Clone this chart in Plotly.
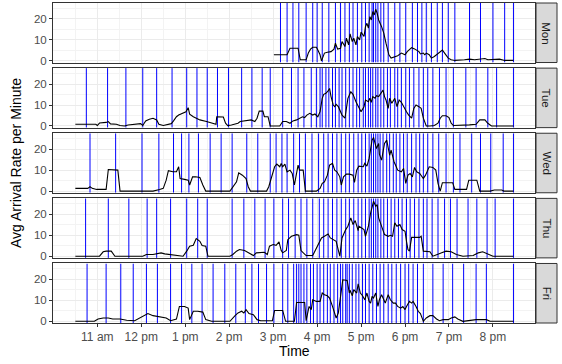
import plotly.graph_objects as go
from plotly.subplots import make_subplots

days = ["Mon", "Tue", "Wed", "Thu", "Fri"]
tick_minutes = [60, 120, 180, 240, 300, 360, 420, 480, 540, 600]   # minutes after 10:00
tick_labels = ["11 am", "12 pm", "1 pm", "2 pm", "3 pm", "4 pm", "5 pm", "6 pm", "7 pm", "8 pm"]

# ---- Monday ----
mon_t = [301, 319, 323, 334, 337, 345, 348, 351, 354, 359, 361, 364, 366, 370, 374, 379, 383, 385, 388, 392,
         394, 398, 400, 403, 405, 408, 410, 413, 415, 418, 420, 424, 426, 428, 430, 432, 434, 436, 438, 440,
         442, 444, 448, 451, 454, 458, 461, 466, 470, 475, 480, 483, 489, 493, 495, 499, 501, 505, 507, 509,
         513, 516, 520, 523, 527, 531, 534, 539, 543, 548, 561, 568, 575, 582, 589, 593, 600, 609, 616, 628]
mon_rate = [2.9, 2.9, 6.0, 6.0, 0.5, 0.5, 3.7, 5.6, 6.5, 6.5, 5.2, 2.9, 0.0, 3.7, 4.1, 4.4, 5.6, 8.4, 5.6, 6.0,
            9.2, 6.8, 10.8, 7.6, 12.9, 9.2, 10.8, 7.6, 11.6, 10.0, 13.7, 11.6, 16.3, 17.9, 15.6, 21.1, 19.5, 23.5, 21.9, 24.6,
            22.7, 19.5, 16.3, 13.2, 8.4, 2.9, 1.3, 2.1, 2.4, 3.7, 2.9, 4.4, 6.3, 5.7, 5.2, 4.4, 3.3, 3.7, 2.9, 3.7,
            2.9, 1.3, 2.1, 2.9, 4.4, 5.2, 3.7, 1.3, 0.5, 0.2, 0.5, 0.8, 0.5, 0.8, 1.1, 0.5, 0.5, 0.8, 0.2, 0.2]
mon_vlines = [310, 319, 327, 335, 345, 354, 360, 367, 376, 385, 392, 398, 404, 409, 415, 421, 426, 431, 435, 437,
              440, 443, 447, 451, 457, 466, 473, 481, 490, 497, 503, 509, 516, 524, 531, 539, 548, 568, 583, 600,
              616, 628]

# ---- Tuesday ----
tue_t = [30, 58, 60, 63, 72, 75, 78, 86, 91, 97, 102, 111, 119, 122, 126, 131, 136, 141, 144, 150,
         156, 161, 164, 168, 171, 177, 181, 184, 186, 191, 195, 200, 209, 218, 222, 223, 227, 232, 235, 238,
         243, 248, 252, 255, 261, 266, 270, 275, 278, 281, 286, 288, 293, 296, 309, 313, 318, 323, 327, 332,
         336, 340, 343, 346, 350, 354, 357, 361, 364, 367, 369, 372, 375, 377, 379, 382, 384, 386, 389, 392,
         394, 398, 400, 402, 406, 409, 413, 415, 417, 420, 424, 426, 430, 432, 434, 436, 439, 441, 444, 448,
         450, 452, 454, 457, 459, 462, 466, 469, 472, 475, 478, 482, 485, 489, 492, 495, 499, 502, 505, 509,
         514, 520, 525, 528, 531, 536, 540, 543, 546, 561, 568, 577, 582, 589, 593, 598, 628]
tue_rate = [0.8, 0.8, 0.2, 1.4, 1.7, 2.1, 1.0, 0.8, 0.2, 0.0, 0.5, 0.8, 1.1, 0.2, 2.4, 3.2, 3.7, 2.9, 0.8, 0.2,
            0.8, 1.1, 2.4, 4.4, 5.2, 6.0, 6.8, 8.7, 5.6, 4.4, 3.7, 2.9, 2.1, 1.3, 0.8, 4.4, 4.4, 4.3, 1.3, 0.2,
            0.5, 0.8, 1.3, 2.1, 2.4, 2.4, 2.9, 2.1, 3.7, 7.1, 7.1, 4.4, 4.4, 0.0, 0.0, 2.1, 2.1, 1.3, 2.4, 2.9,
            3.7, 4.4, 4.0, 5.2, 6.0, 5.2, 5.7, 4.4, 6.8, 13.2, 15.1, 15.6, 16.7, 17.9, 14.0, 10.0, 9.2, 10.3, 9.2, 6.8,
            5.2, 3.7, 8.4, 13.2, 16.3, 15.1, 11.6, 10.3, 8.4, 6.8, 9.2, 12.4, 11.6, 13.2, 11.3, 14.0, 13.2, 14.4, 14.0, 16.0,
            17.1, 14.0, 12.4, 8.4, 13.2, 10.8, 13.2, 9.2, 12.4, 11.3, 9.2, 6.8, 5.2, 3.7, 8.4, 10.0, 9.2, 8.4, 3.7, 0.0,
            0.0, 0.2, 1.3, 3.7, 4.9, 4.9, 4.0, 1.3, 0.2, 0.2, 0.5, 0.8, 2.9, 2.9, 1.3, 0.0, 0.0]
tue_vlines = [45, 74, 99, 122, 141, 162, 182, 196, 210, 224, 239, 257, 271, 285, 296, 313, 325, 334, 342, 352,
              359, 364, 367, 372, 376, 381, 385, 390, 394, 399, 404, 409, 414, 418, 423, 426, 430, 433, 436, 440,
              443, 447, 451, 456, 460, 466, 470, 475, 481, 486, 492, 499, 505, 511, 518, 527, 536, 546, 563, 577,
              593, 605, 628]

# ---- Wednesday ----
wed_t = [30, 47, 50, 53, 59, 72, 75, 88, 91, 136, 145, 150, 154, 157, 163, 168, 171, 173, 179, 184,
         186, 190, 194, 200, 204, 208, 241, 245, 250, 253, 258, 263, 266, 269, 291, 294, 298, 302, 305, 309,
         311, 313, 316, 319, 323, 326, 329, 332, 334, 336, 341, 344, 359, 364, 367, 370, 374, 377, 381, 384,
         387, 391, 393, 396, 400, 404, 409, 411, 414, 417, 423, 425, 428, 431, 433, 435, 437, 439, 441, 444,
         445, 448, 450, 452, 455, 457, 459, 461, 465, 468, 470, 475, 478, 481, 484, 487, 490, 493, 496, 500,
         505, 508, 513, 518, 522, 525, 528, 531, 545, 548, 557, 564, 567, 578, 582, 596, 602, 612, 615, 628]
wed_rate = [1.3, 1.3, 2.1, 1.3, 0.8, 0.8, 10.3, 10.0, 0.0, 0.0, 0.8, 1.3, 5.2, 9.7, 9.2, 9.2, 11.6, 6.0, 5.6, 5.2,
            2.9, 6.8, 6.8, 6.5, 2.9, 0.0, 0.0, 2.1, 4.4, 8.7, 7.6, 6.0, 2.1, 0.0, 0.0, 2.1, 7.1, 11.6, 12.9, 11.6,
            13.2, 11.6, 12.9, 9.2, 10.0, 8.4, 2.9, 10.0, 12.4, 10.0, 10.0, 0.0, 0.0, 1.3, 3.7, 4.4, 7.6, 12.4, 13.2, 10.0,
            9.2, 6.8, 2.9, 6.8, 8.1, 8.1, 7.6, 4.1, 10.0, 11.9, 11.6, 13.2, 11.9, 15.6, 19.5, 24.3, 25.6, 23.5, 20.3, 22.7,
            17.6, 14.8, 19.5, 22.7, 24.3, 20.3, 17.1, 19.5, 14.0, 11.6, 10.0, 9.2, 10.8, 3.7, 7.6, 8.4, 6.8, 11.3, 9.2, 8.4,
            6.0, 7.6, 11.6, 11.3, 10.0, 3.7, 0.0, 4.0, 4.0, 0.8, 0.8, 0.8, 5.2, 5.2, 0.0, 0.0, 0.5, 0.5, 0.0, 0.0]
wed_vlines = [50, 85, 121, 144, 164, 175, 185, 198, 214, 229, 244, 264, 279, 296, 304, 312, 319, 328, 336, 344,
              353, 362, 369, 375, 381, 387, 393, 399, 404, 410, 416, 421, 426, 431, 434, 437, 440, 443, 446, 450,
              455, 459, 464, 468, 473, 478, 483, 489, 495, 500, 505, 511, 518, 526, 536, 546, 555, 571, 583, 597,
              614, 628]

# ---- Thursday ----
thu_t = [30, 63, 68, 72, 79, 84, 122, 127, 136, 143, 147, 152, 159, 177, 182, 186, 191, 195, 200, 203,
         208, 211, 241, 245, 250, 254, 261, 268, 273, 277, 282, 288, 292, 295, 300, 304, 308, 311, 313, 318,
         320, 325, 332, 335, 338, 345, 354, 361, 366, 370, 375, 378, 382, 386, 391, 394, 399, 402, 406, 409,
         412, 416, 417, 420, 424, 426, 430, 433, 435, 437, 440, 442, 444, 448, 452, 457, 460, 463, 466, 469,
         473, 476, 480, 482, 484, 486, 489, 500, 502, 505, 514, 518, 523, 530, 536, 543, 550, 559, 573, 580,
         586, 593, 600, 628]
thu_rate = [0.0, 0.0, 2.1, 2.4, 2.4, 0.0, 0.0, 0.8, 0.8, 1.1, 1.6, 1.1, 0.8, 0.0, 2.4, 4.8, 5.2, 8.4, 7.1, 5.1,
            4.8, 0.0, 0.0, 0.8, 2.4, 3.2, 2.7, 1.1, 0.3, 1.6, 1.6, 1.9, 0.8, 4.8, 5.6, 5.2, 6.8, 2.7, 1.6, 2.7,
            7.9, 9.5, 10.3, 10.0, 2.7, 0.3, 0.3, 5.6, 8.7, 9.5, 10.6, 8.7, 7.9, 7.1, 0.0, 8.7, 12.7, 14.3, 18.3, 15.1,
            17.0, 12.2, 14.3, 13.5, 12.7, 9.5, 14.3, 20.6, 23.0, 26.2, 23.8, 24.6, 18.3, 14.3, 10.3, 9.5, 10.0, 9.5, 15.9, 14.3,
            15.1, 12.7, 11.9, 7.1, 3.2, 2.4, 9.0, 9.0, 9.5, 2.4, 2.1, 0.0, 0.8, 1.6, 2.4, 2.1, 0.8, 0.0, 0.3, 1.6,
            2.1, 1.1, 0.0, 0.0]
thu_vlines = [44, 75, 103, 128, 141, 160, 182, 197, 210, 244, 260, 275, 289, 301, 313, 321, 330, 338, 346, 354,
              363, 369, 375, 381, 387, 393, 399, 404, 410, 416, 421, 426, 431, 434, 437, 440, 443, 447, 451, 456,
              461, 466, 471, 476, 482, 487, 493, 499, 505, 510, 517, 525, 534, 542, 551, 566, 578, 592, 603, 628]

# ---- Friday ----
fri_t = [30, 56, 61, 68, 75, 81, 91, 100, 111, 118, 125, 129, 136, 145, 154, 160, 168, 172, 179, 184,
         186, 191, 197, 204, 208, 216, 241, 248, 252, 257, 260, 263, 267, 273, 278, 283, 299, 302, 313, 317,
         329, 332, 343, 345, 349, 352, 354, 359, 364, 367, 370, 374, 377, 381, 384, 386, 389, 391, 393, 395,
         401, 404, 405, 408, 410, 414, 416, 419, 422, 425, 428, 431, 433, 435, 437, 440, 443, 445, 448, 450,
         453, 457, 460, 464, 467, 470, 474, 477, 480, 482, 486, 489, 491, 495, 498, 501, 505, 509, 514, 518,
         523, 527, 532, 539, 543, 548, 552, 559, 568, 577, 591, 596, 628]
fri_rate = [0.0, 0.0, 1.1, 1.6, 1.6, 1.1, 1.1, 0.5, 0.3, 1.6, 3.2, 3.7, 2.7, 2.1, 1.6, 0.3, 1.1, 7.1, 7.1, 6.3,
            0.8, 4.8, 4.8, 4.4, 0.8, 0.0, 0.0, 2.7, 4.0, 4.8, 4.0, 5.6, 3.7, 3.2, 0.8, 0.3, 0.3, 5.2, 5.2, 0.0,
            0.0, 9.0, 9.0, 0.3, 7.1, 5.6, 10.3, 9.5, 9.5, 13.5, 12.7, 12.2, 11.1, 7.1, 4.0, 1.6, 4.0, 8.7, 13.5, 19.8,
            19.5, 13.5, 14.8, 12.2, 15.1, 13.5, 17.9, 13.5, 12.2, 10.3, 13.5, 9.5, 8.7, 11.9, 11.1, 13.5, 7.1, 10.3, 12.7, 11.1,
            8.7, 12.7, 10.3, 8.7, 8.7, 7.1, 6.3, 7.1, 5.6, 7.1, 9.5, 8.7, 9.5, 7.1, 4.8, 3.7, 0.0, 1.6, 2.7, 2.7,
            1.1, 0.3, 0.8, 0.8, 1.6, 2.1, 1.1, 0.0, 0.5, 0.8, 0.8, 0.0, 0.0]
fri_vlines = [46, 72, 92, 109, 127, 142, 160, 175, 189, 203, 218, 234, 249, 262, 271, 280, 291, 301, 313, 320,
              328, 332, 335, 338, 342, 346, 351, 355, 360, 364, 369, 374, 378, 383, 388, 392, 395, 399, 401, 404,
              408, 413, 417, 422, 426, 431, 436, 441, 446, 451, 457, 462, 468, 474, 480, 485, 491, 497, 505, 518,
              532, 545, 560, 577, 591, 628]

series_t = [mon_t, tue_t, wed_t, thu_t, fri_t]
series_rate = [mon_rate, tue_rate, wed_rate, thu_rate, fri_rate]
series_vlines = [mon_vlines, tue_vlines, wed_vlines, thu_vlines, fri_vlines]

Y_RANGE = [-0.8, 27.6]
X_RANGE = [-0.5, 657.4]

W, H = 562, 364
ML, MR, MT, MB = 53, 27, 3, 41
plot_w = W - ML - MR
plot_h = H - MT - MB
strip_w = 22
FONT = "Liberation Sans, Arial, sans-serif"

fig = make_subplots(rows=5, cols=1, shared_xaxes=True, vertical_spacing=5.6 / plot_h)

for i, day in enumerate(days):
    r = i + 1
    sfx = "" if r == 1 else str(r)
    # vertical blue lines spanning the panel at event times
    vx, vy = [], []
    for t in series_vlines[i]:
        vx += [t, t, None]
        vy += [Y_RANGE[0], Y_RANGE[1], None]
    fig.add_trace(go.Scatter(x=vx, y=vy, mode="lines", line=dict(color="#0000FF", width=1),
                             showlegend=False, hoverinfo="skip"), row=r, col=1)
    fig.add_trace(go.Scatter(x=series_t[i], y=series_rate[i], mode="lines",
                             line=dict(color="black", width=1.1), showlegend=False,
                             hoverinfo="skip"), row=r, col=1)
    # facet strip on the right
    fig.add_shape(type="rect", xref="paper", yref=f"y{sfx} domain",
                  x0=1.0 + 1 / plot_w, x1=1.0 + strip_w / plot_w, y0=0, y1=1,
                  fillcolor="#D9D9D9", line=dict(color="#333333", width=1))
    fig.add_annotation(text=day, xref="paper", yref=f"y{sfx} domain",
                       x=1.0 + (strip_w / 2 + 0.5) / plot_w, y=0.5, showarrow=False, textangle=90,
                       font=dict(family=FONT, size=11.5, color="#1A1A1A"),
                       xanchor="center", yanchor="middle")
    fig.update_yaxes(row=r, col=1, range=Y_RANGE, tickvals=[0, 10, 20],
                     ticks="outside", ticklen=3, tickcolor="#333333", tickwidth=1,
                     tickfont=dict(family=FONT, size=11.5, color="#4D4D4D"),
                     showgrid=True, gridcolor="#EBEBEB", gridwidth=1, zeroline=False,
                     showline=True, linecolor="#333333", linewidth=1, mirror=True,
                     minor=dict(tickvals=[5, 15, 25], showgrid=True, gridcolor="#F3F3F3", gridwidth=0.6))
    fig.update_xaxes(row=r, col=1, range=X_RANGE, tickvals=tick_minutes, ticktext=tick_labels,
                     ticks="outside" if r == 5 else "", ticklen=3, tickcolor="#333333", tickwidth=1,
                     showticklabels=(r == 5),
                     tickfont=dict(family=FONT, size=12, color="#4D4D4D"),
                     showgrid=True, gridcolor="#EBEBEB", gridwidth=1, zeroline=False,
                     showline=True, linecolor="#333333", linewidth=1, mirror=True,
                     minor=dict(tickvals=[30, 90, 150, 210, 270, 330, 390, 450, 510, 570, 630],
                                showgrid=True, gridcolor="#F3F3F3", gridwidth=0.6))

fig.add_annotation(text="Avg Arrival Rate per Minute", xref="paper", yref="paper",
                   x=(16 - ML) / plot_w, y=0.5, textangle=-90, showarrow=False,
                   font=dict(family=FONT, size=14, color="black"),
                   xanchor="center", yanchor="middle")
fig.add_annotation(text="Time", xref="paper", yref="paper",
                   x=0.5, y=(MT + plot_h - 351) / plot_h, showarrow=False,
                   font=dict(family=FONT, size=14, color="black"),
                   xanchor="center", yanchor="middle")

fig.update_layout(width=W, height=H, margin=dict(l=ML, r=MR, t=MT, b=MB),
                  paper_bgcolor="white", plot_bgcolor="white", showlegend=False)

fig.write_html("out.html", config={"displayModeBar": False},
               post_script="document.body.style.margin='0';document.body.style.overflow='hidden';")
